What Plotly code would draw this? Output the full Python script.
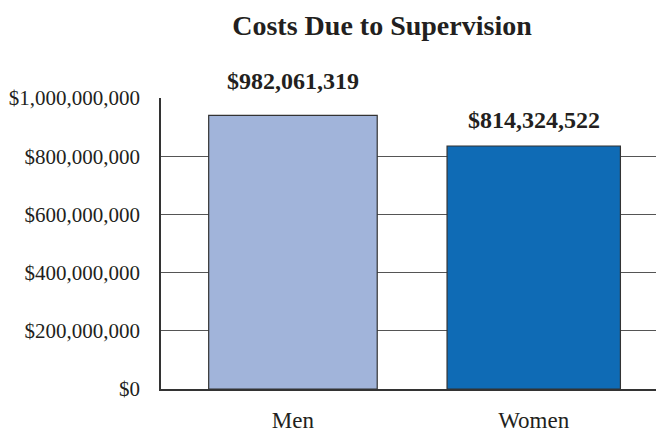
import plotly.graph_objects as go

categories = ["Men", "Women"]
bar_values = [940_000_000, 835_000_000]          # bar heights as drawn
value_labels = ["$982,061,319", "$814,324,522"]  # printed labels
bar_colors = ["#A1B4DA", "#0F6BB5"]
tick_vals = [0, 200_000_000, 400_000_000, 600_000_000, 800_000_000, 1_000_000_000]
tick_text = ["$0", "$200,000,000", "$400,000,000", "$600,000,000", "$800,000,000", "$1,000,000,000"]
label_shift = [34, 26]

FONT = "Liberation Serif"
W, H = 656, 425  # page body has an 8px margin

fig = go.Figure()
fig.add_trace(go.Bar(
    x=categories, y=bar_values, width=[0.70, 0.72],
    marker=dict(color=bar_colors, line=dict(color="#333333", width=1.2)),
    hoverinfo="skip",
))

for c, v, t, s in zip(categories, bar_values, value_labels, label_shift):
    fig.add_annotation(x=c, y=v, text="<b>%s</b>" % t, showarrow=False,
                       yanchor="middle", yshift=s,
                       font=dict(family=FONT, size=24, color="#231F20"))

fig.update_layout(
    width=W, height=H,
    margin=dict(l=153, r=0, t=90, b=41, pad=0),
    paper_bgcolor="white", plot_bgcolor="white",
    showlegend=False,
    title=dict(text="<b>Costs Due to Supervision</b>", x=374 / W, xanchor="center",
               y=1 - 17 / H, yanchor="middle",
               font=dict(family=FONT, size=28, color="#231F20")),
    xaxis=dict(range=[-0.548, 1.541], showgrid=False, zeroline=False,
               showline=True, linecolor="#333333", linewidth=1.5,
               ticks="", ticklabelstandoff=10,
               tickfont=dict(family=FONT, size=23, color="#231F20")),
    yaxis=dict(range=[0, 1_000_000_000], tickvals=tick_vals, ticktext=tick_text,
               showgrid=True, gridcolor="#555555", gridwidth=1.3,
               zeroline=False, showline=True, linecolor="#333333", linewidth=1.5,
               ticks="", ticklabelstandoff=15,
               tickfont=dict(family=FONT, size=21, color="#231F20")),
    bargap=0.3,
)

fig.write_html("out.html")
